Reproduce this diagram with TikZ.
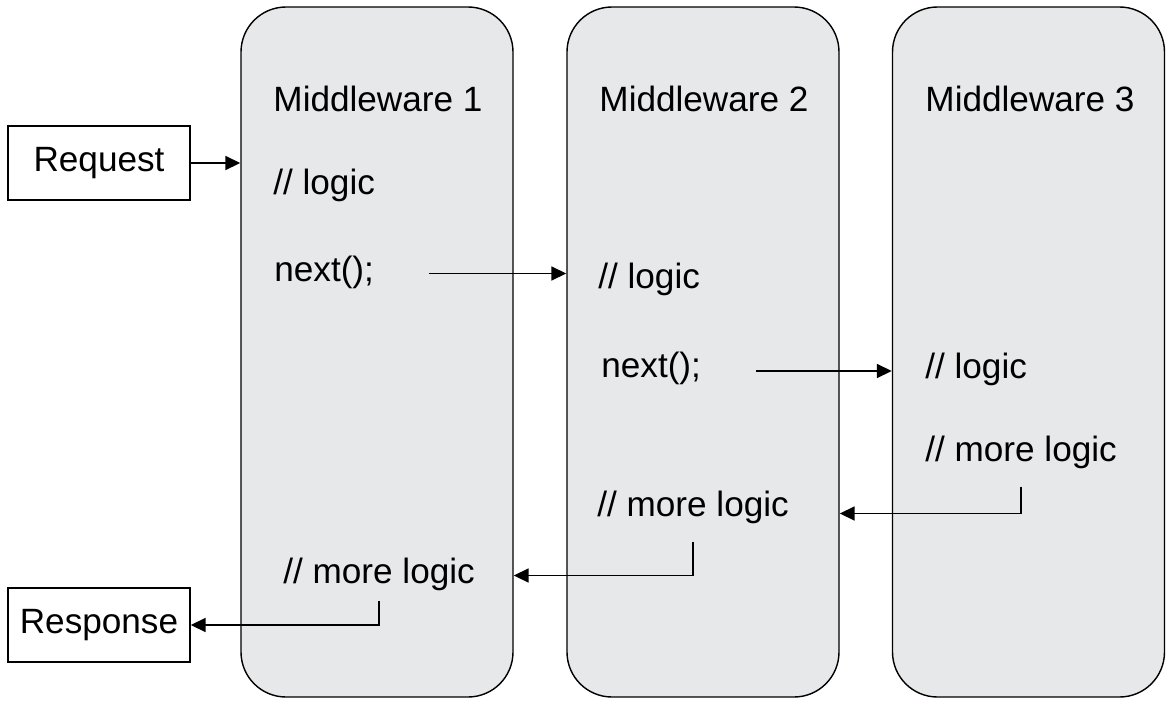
\documentclass[tikz,border=0pt]{standalone}
\usepackage{xcolor}
\usepackage{fontspec}
\setmainfont{Liberation Sans}
\usepackage{tikz}
\usetikzlibrary{arrows.meta, positioning, calc}
\definecolor{mwgray}{RGB}{231,232,234}

\begin{document}
\begin{tikzpicture}[
    every node/.style={font=\fontsize{20}{24}\selectfont},
    mw/.style={draw, line width=0.8pt, fill=mwgray, rounded corners=0.9cm, minimum width=5.44cm, minimum height=13.8cm},
    io/.style={draw, line width=0.8pt, minimum width=3.64cm, minimum height=1.48cm},
    code/.style={anchor=west, inner sep=0pt},
    flow/.style={line width=1pt, -{Triangle[length=3mm, width=2.8mm]}},
    ret/.style={flow, shorten <=0.35cm}
]
\useasboundingbox (0,0) rectangle (23.46,-14.14);
\node[mw] (mwa) at (7.54,-7.04)  {};
\node[mw] (mwb) at (14.06,-7.04) {};
\node[mw] (mwc) at (20.57,-7.04) {};
\node[io] (req)  at (1.98,-3.26) {Request};
\node[io] (resp) at (1.98,-12.5) {Response};
\node at (7.56,-1.98)  {Middleware 1};
\node at (14.08,-1.98) {Middleware 2};
\node at (20.6,-1.98)  {Middleware 3};
% middleware 1
\node[code] (loga)  at (5.46,-3.71)  {// logic};
\node[code] (nexta) at (5.48,-5.44)  {next();};
\node[code] (morea) at (5.66,-11.49) {// more logic};
% middleware 2
\node[code] (logb)  at (11.96,-5.59) {// logic};
\node[code] (nextb) at (12.02,-7.36) {next();};
\node[code] (moreb) at (11.94,-10.15) {// more logic};
% middleware 3
\node[code] (logc)  at (18.5,-7.39)  {// logic};
\node[code] (morec) at (18.5,-9.05)  {// more logic};
% calls
\draw[flow] (req.east) -- (req -| mwa.west);
\draw[flow, shorten <=1.1cm] ([yshift=-0.03cm]nexta.east) -- ([yshift=-0.03cm]nexta -| mwb.west);
\draw[flow, shorten <=1.1cm] ([yshift=-0.06cm]nextb.east) -- ([yshift=-0.06cm]nextb -| mwc.west);
% returns
\draw[ret] (morec.south) |- ([yshift=-0.12cm]moreb -| mwb.east);
\draw[ret] (moreb.south) |- ([yshift=-0.02cm]morea -| mwa.east);
\draw[ret, shorten <=0.2cm] (morea.south) |- (resp.east);
\end{tikzpicture}
\end{document}
